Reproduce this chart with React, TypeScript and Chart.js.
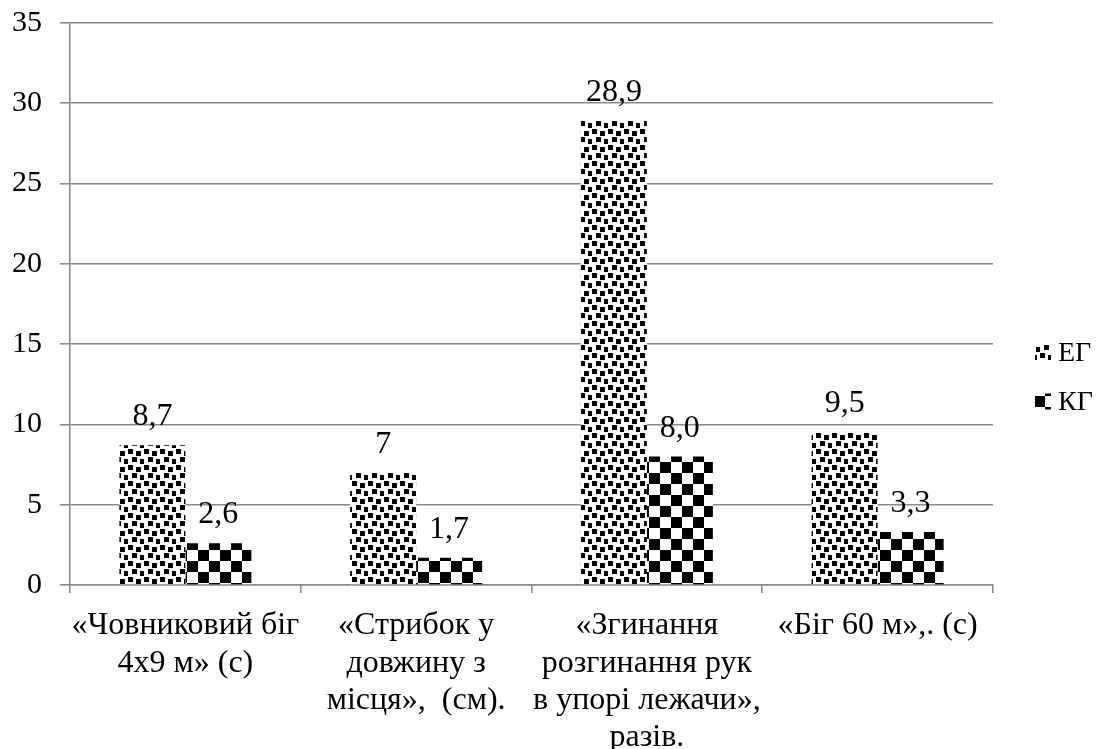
import React, { useEffect, useRef } from "react";
import { Chart, registerables } from "chart.js";

Chart.register(...registerables);

const categories: string[][] = [
  ["«Човниковий біг", "4х9 м» (с)"],
  ["«Стрибок у", "довжину з", "місця»,  (см)."],
  ["«Згинання", "розгинання рук", "в упорі лежачи»,", "разів."],
  ["«Біг 60 м»,. (с)"],
];
const seriesNames = ["ЕГ", "КГ"];
const egValues = [8.7, 7, 28.9, 9.5];
const kgValues = [2.6, 1.7, 8.0, 3.3];
const egLabels = ["8,7", "7", "28,9", "9,5"];
const kgLabels = ["2,6", "1,7", "8,0", "3,3"];
const yMin = 0;
const yMax = 35;
const yStep = 5;

const FONT = '"Liberation Serif", "Times New Roman", serif';
const GRID = "#8a8a8a";

function makeConfetti(): CanvasPattern {
  const t = 16;
  const c = document.createElement("canvas");
  c.width = t;
  c.height = t;
  const g = c.getContext("2d")!;
  g.fillStyle = "#fff";
  g.fillRect(0, 0, t, t);
  g.fillStyle = "#000";
  const sq = [
    [0, 1],
    [8, 3],
    [4, 9],
    [12, 11],
  ];
  sq.forEach(([x, y]) => g.fillRect(x, y, 5, 5));
  return g.createPattern(c, "repeat")!;
}

function makeChecker(): CanvasPattern {
  const s = 11;
  const c = document.createElement("canvas");
  c.width = s * 2;
  c.height = s * 2;
  const g = c.getContext("2d")!;
  g.fillStyle = "#fff";
  g.fillRect(0, 0, s * 2, s * 2);
  g.fillStyle = "#000";
  g.fillRect(0, 0, s, s);
  g.fillRect(s, s, s, s);
  return g.createPattern(c, "repeat")!;
}

export default function App() {
  const ref = useRef<HTMLCanvasElement | null>(null);

  useEffect(() => {
    if (!ref.current) return;
    const eg = makeConfetti();
    const kg = makeChecker();
    const patterns = [eg, kg];
    const valueLabels = [egLabels, kgLabels];

    const plugin = {
      id: "customLabels",
      afterDatasetsDraw(chart: any) {
        const ctx = chart.ctx as CanvasRenderingContext2D;
        ctx.save();
        ctx.fillStyle = "#000";
        ctx.font = `32px ${FONT}`;
        ctx.textAlign = "center";
        ctx.textBaseline = "alphabetic";
        valueLabels.forEach((labels, di) => {
          const meta = chart.getDatasetMeta(di);
          meta.data.forEach((bar: any, i: number) => {
            ctx.fillText(labels[i], bar.x, bar.y - 20);
          });
        });
        // legend
        const mid = chart.height / 2;
        const x0 = chart.chartArea.right + 42;
        ctx.font = `28px ${FONT}`;
        ctx.textAlign = "left";
        ctx.textBaseline = "middle";
        seriesNames.forEach((name, i) => {
          const yc = mid + (i === 0 ? -22 : 27);
          ctx.fillStyle = patterns[i];
          ctx.fillRect(x0, yc - 8, 16, 16);
          ctx.fillStyle = "#000";
          ctx.fillText(name, x0 + 23, yc + 1);
        });
        ctx.restore();
      },
    };

    const chart = new Chart(ref.current, {
      type: "bar",
      data: {
        labels: categories,
        datasets: [
          {
            label: seriesNames[0],
            data: egValues,
            backgroundColor: eg,
            borderWidth: 0,
            categoryPercentage: 0.572,
            barPercentage: 1,
          },
          {
            label: seriesNames[1],
            data: kgValues,
            backgroundColor: kg,
            borderWidth: 0,
            categoryPercentage: 0.572,
            barPercentage: 1,
          },
        ],
      },
      options: {
        animation: false,
        responsive: true,
        maintainAspectRatio: false,
        layout: { padding: { top: 23, right: 107, left: 0, bottom: 0 } },
        plugins: {
          legend: { display: false },
          tooltip: { enabled: false },
        },
        scales: {
          x: {
            afterFit: (s: any) => {
              s.height = 164;
              s.paddingLeft = 0;
              s.paddingRight = 0;
              s.paddingTop = 0;
              s.paddingBottom = 0;
            },
            grid: {
              display: true,
              drawOnChartArea: false,
              drawTicks: true,
              tickLength: 8,
              color: GRID,
              lineWidth: 1.6,
              offset: true,
            },
            border: { display: true, color: GRID, width: 1.6 },
            ticks: {
              color: "#000",
              font: { family: FONT, size: 32, lineHeight: 1.17 },
              padding: 14,
              maxRotation: 0,
              autoSkip: false,
            },
          },
          y: {
            min: yMin,
            max: yMax,
            afterFit: (s: any) => {
              s.width = 70;
              s.paddingTop = 0;
              s.paddingBottom = 0;
              s.paddingLeft = 0;
              s.paddingRight = 0;
            },
            grid: {
              color: GRID,
              lineWidth: 1.6,
              drawTicks: true,
              tickLength: 10,
            },
            border: { display: true, color: GRID, width: 1.6 },
            ticks: {
              stepSize: yStep,
              color: "#000",
              font: { family: FONT, size: 30 },
              padding: 18,
            },
          },
        },
      },
      plugins: [plugin],
    });
    return () => chart.destroy();
  }, []);

  return (
    <div style={{ position: "absolute", left: 0, top: 0, width: 1100, height: 749, background: "#fff" }}>
      <canvas ref={ref} />
    </div>
  );
}
